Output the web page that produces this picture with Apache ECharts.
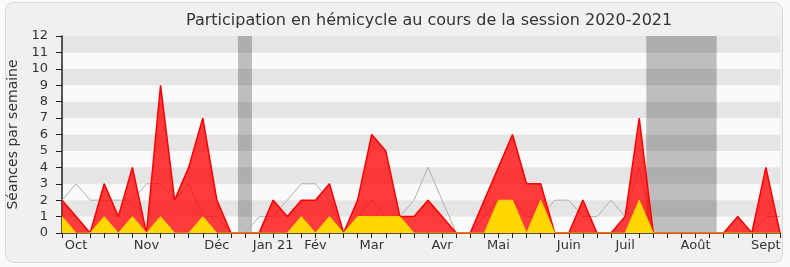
<!DOCTYPE html>
<html><head><meta charset="utf-8">
<script src="https://cdn.jsdelivr.net/npm/echarts@6/dist/echarts.min.js"></script>
<style>html,body{margin:0;padding:0;background:#fafafa;}#c{width:790px;height:267px;}</style>
</head><body><div id="c"></div>
<script>
// Weekly values, session 2020-2021 (52 weeks)
const presence = [2,1,0,3,1,4,0,9,2,4, 7,2,0,0,0,2,1,2,2,3, 0,2,6,5,1,1,2,1,0,0, 2,4,6,3,3,0,0,2,0,0, 1,7,0,0,0,0,0,0,1,0, 4,0];
const interventions = [1,0,0,1,0,1,0,1,0,0, 1,0,0,0,0,0,0,1,0,1, 0,1,1,1,1,0,0,0,0,0, 0,2,2,0,2,0,0,0,0,0, 0,2,0,0,0,0,0,0,0,0, 0,0];
const mediane = [2,3,2,2,2,2,3,3,2,3, 1,1,0,0,1,1,2,3,3,2, 0,1,2,1,1,2,4,2,0,0, 1,2,2,1,1,2,2,1,1,2, 1,4,0,0,0,0,0,0,0,0, 1,1];
const monthLabels = ['Oct','Nov','Déc','Jan 21','Fév','Mar','Avr','Mai','Juin','Juil','Août','Sept'];
const monthIdx = [1,6,11,15,18,22,27,31,36,40,45,50];
const vacances = [[12.5,13.5],[41.5,46.5]];
const yTicks = [0,1,2,3,4,5,6,7,8,9,10,11,12];

const font = 'DejaVu Sans';
const chart = echarts.init(document.getElementById('c'), null, {renderer:'canvas'});
const toXY = arr => arr.map((v,i)=>[i,v]);
const labelMap = {};
monthIdx.forEach((k,j)=>labelMap[k]=monthLabels[j]);

chart.setOption({
  backgroundColor:'#fafafa',
  animation:false,
  graphic:[{type:'rect',z:-10,shape:{x:5.5,y:2.5,width:777,height:260,r:8},style:{fill:'#f0f0f0',stroke:'#d8d8d8',lineWidth:1}}],
  title:{text:'Participation en hémicycle au cours de la session 2020-2021',left:181,top:8,
    textStyle:{fontFamily:font,fontSize:16,fontWeight:'normal',color:'#333'}},
  grid:{left:62,right:10,top:36,bottom:34,containLabel:false,outerBoundsMode:'none'},
  xAxis:[{type:'value',min:0,max:51,interval:1,
    axisLine:{show:true,onZero:false,lineStyle:{color:'#222',width:1.5}},
    axisTick:{show:true,length:5,lineStyle:{color:'#222'}},
    splitLine:{show:false},
    axisLabel:{fontFamily:font,fontSize:13,color:'#333',margin:6,formatter:v=>labelMap[v]||''}},
   {type:'value',position:'top',min:0,max:51,interval:1,
    axisLine:{show:false},axisTick:{show:true,inside:true,length:2,lineStyle:{color:'#222'}},
    axisLabel:{show:false},splitLine:{show:false}}],
  yAxis:{type:'value',min:0,max:12,interval:1,
    name:'Séances par semaine',nameLocation:'middle',nameGap:42,nameRotate:90,
    nameTextStyle:{fontFamily:font,fontSize:14,color:'#333'},
    axisLine:{show:true,lineStyle:{color:'#222',width:1.5}},
    axisTick:{show:true,length:6,lineStyle:{color:'#222'}},
    axisLabel:{fontFamily:font,fontSize:13,color:'#333',margin:14,formatter:v=>yTicks.includes(v)?String(v):''},
    splitLine:{show:false},
    splitArea:{show:true,areaStyle:{color:['#fafafa','#e5e5e5']}}},
  series:[
    {type:'line',data:toXY(mediane),symbol:'none',z:1,
     lineStyle:{color:'#b0b0b0',width:1},
     markArea:{silent:true,itemStyle:{color:'rgba(0,0,0,0.24)'},data:vacances.map(v=>[{xAxis:v[0]},{xAxis:v[1]}])}},
    {type:'line',data:toXY(presence),symbol:'none',z:2,
     lineStyle:{color:'#ff0000',width:1.5},areaStyle:{color:'rgba(255,0,0,0.76)',opacity:1}},
    {type:'line',data:toXY(interventions),symbol:'none',z:3,
     lineStyle:{color:'#ffd200',width:1},areaStyle:{color:'#ffd700',opacity:1}}
  ]
});
</script></body></html>
